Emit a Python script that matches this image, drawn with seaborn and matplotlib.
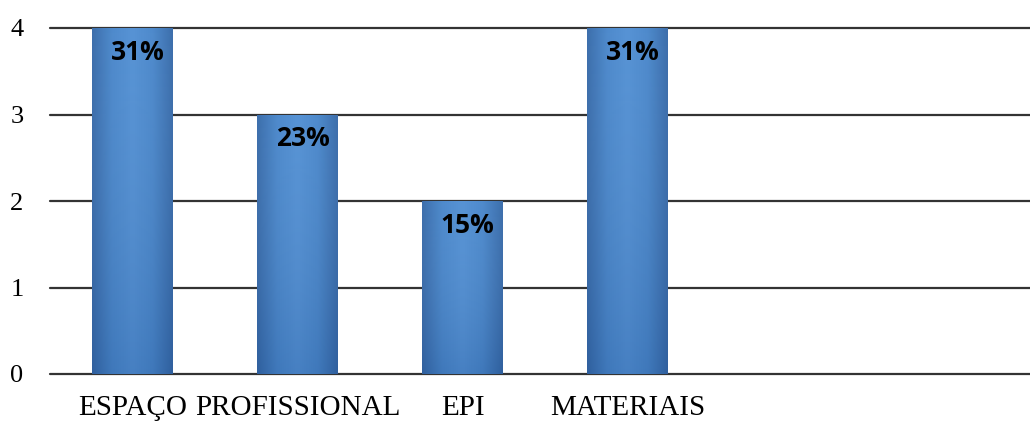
import numpy as np
import pandas as pd
import matplotlib
matplotlib.use("Agg")
import matplotlib.pyplot as plt
import seaborn as sns
from matplotlib.colors import LinearSegmentedColormap

categories = ["ESPAÇO", "PROFISSIONAL", "EPI", "MATERIAIS"]
values = [4, 3, 2, 4]
pct_labels = ["31%", "23%", "15%", "31%"]
yticks = [0, 1, 2, 3, 4]

sns.set_theme(style="white")
plt.rcParams["font.family"] = ["Liberation Serif", "DejaVu Serif"]

fig = plt.figure(figsize=(10.30, 4.22), dpi=100)
ax = fig.add_axes([50 / 1030, 1 - 374 / 422, 980 / 1030, (374 - 28) / 422])

df = pd.DataFrame({"cat": categories, "val": values})
sns.barplot(data=df, x="cat", y="val", order=categories, color="#4a88cc",
            width=0.49, saturation=1, ax=ax, zorder=3, linewidth=0)

# gradient fill clipped to each bar
cmap = LinearSegmentedColormap.from_list(
    "bar", ["#3468a8", "#4685ca", "#4f8ed3", "#4685ca", "#3468a8"])
grad = np.linspace(0, 1, 256).reshape(1, -1)
vgrad = np.linspace(0, 1, 128).reshape(-1, 1)
for p in ax.patches:
    x0, y0 = p.get_x(), p.get_y()
    w, h = p.get_width(), p.get_height()
    im = ax.imshow(grad, cmap=cmap, aspect="auto",
                   extent=[x0, x0 + w, y0, y0 + h], zorder=4, origin="lower")
    im.set_clip_path(p)
    shade = ax.imshow(vgrad, cmap=LinearSegmentedColormap.from_list(
        "sh", [(0.1, 0.2, 0.4, 0.15), (1, 1, 1, 0.05)]), aspect="auto",
        extent=[x0, x0 + w, y0, y0 + h], zorder=5, origin="lower")
    shade.set_clip_path(p)

for i, (v, lab) in enumerate(zip(values, pct_labels)):
    ax.text(i + 0.03, v - 0.28, lab, ha="center", va="center",
            fontsize=19, fontweight="bold", color="black",
            family=["Open Sans", "DejaVu Sans"], zorder=6)

ax.set_xlim(-0.5, -0.5 + 980 / 165)
ax.set_ylim(0, 4)
ax.set_yticks(yticks)
ax.set_yticklabels([str(t) for t in yticks], fontsize=19, color="black")
ax.set_xticks(range(len(categories)))
ax.set_xticklabels(categories, fontsize=21, color="black")
for t in yticks:
    ax.axhline(t, color="#333333", lw=1.6, zorder=2, clip_on=False)
ax.tick_params(axis="y", pad=19, length=0)
ax.tick_params(axis="x", pad=15, length=0)
ax.set_xlabel("")
ax.set_ylabel("")
for s in ax.spines.values():
    s.set_visible(False)
ax.grid(False)

fig.savefig("out.png", dpi=100)
